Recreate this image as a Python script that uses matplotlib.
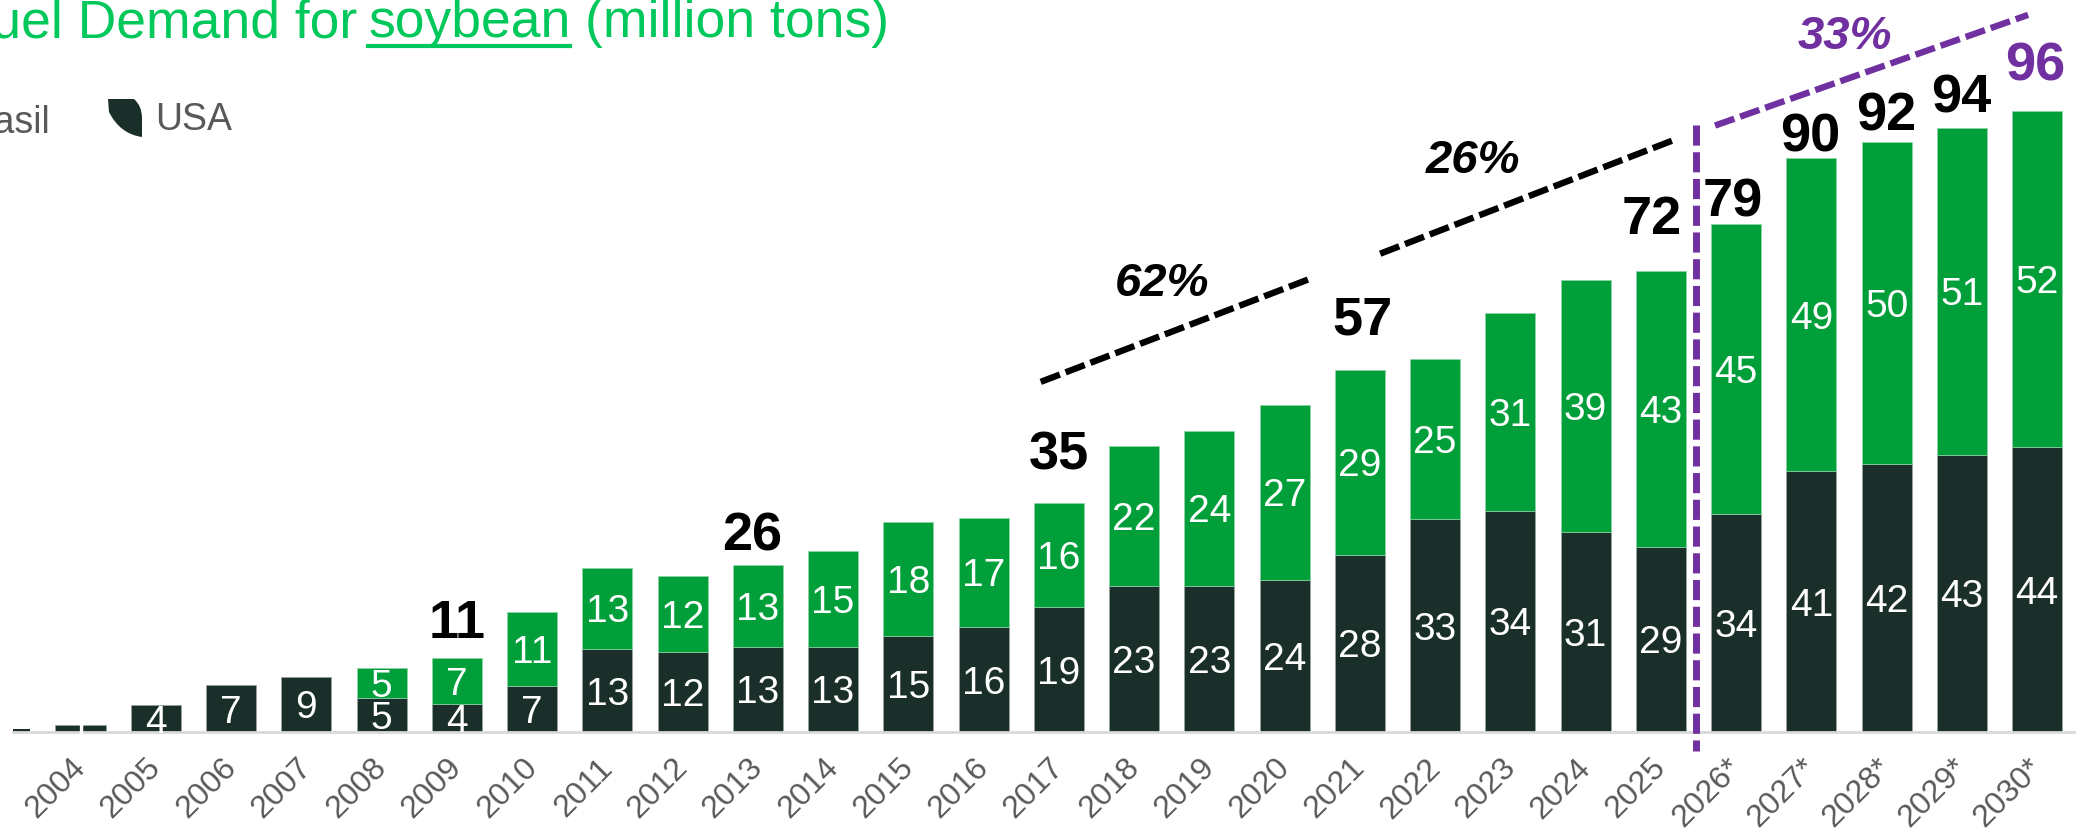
import matplotlib
matplotlib.use("Agg")
import matplotlib.pyplot as plt
from matplotlib.path import Path
from matplotlib.patches import PathPatch
from matplotlib.transforms import ScaledTranslation

plt.rcParams["font.family"] = ["Liberation Sans", "DejaVu Sans"]

W, H = 2087, 834

# ---------- data (million tons) ----------
years = ["", "2004", "2005", "2006", "2007", "2008", "2009", "2010", "2011", "2012",
         "2013", "2014", "2015", "2016", "2017", "2018", "2019", "2020", "2021",
         "2022", "2023", "2024", "2025", "2026*", "2027*", "2028*", "2029*", "2030*"]
usa = [0.5, 1.1, 4.1, 7.2, 8.5, 5.2, 4.3, 7.1, 12.8, 12.3, 13.2, 13.2, 14.8, 16.2,
       19.3, 22.6, 22.6, 23.5, 27.4, 32.9, 34.2, 30.9, 28.6, 33.7, 40.3, 41.4, 42.8, 44]
brazil = [0, 0, 0, 0, 0, 4.7, 7.2, 11.4, 12.6, 11.8, 12.6, 14.8, 17.6, 16.9,
          16.1, 21.6, 23.9, 27.1, 28.6, 24.7, 30.6, 38.9, 42.6, 44.8, 48.4, 49.8, 50.6, 52]
usa_labels = ["", "1", "4", "7", "9", "5", "4", "7", "13", "12", "13", "13", "15", "16",
              "19", "23", "23", "24", "28", "33", "34", "31", "29", "34", "41", "42", "43", "44"]
brazil_labels = ["", "", "", "", "", "5", "7", "11", "13", "12", "13", "15", "18", "17",
                 "16", "22", "24", "27", "29", "25", "31", "39", "43", "45", "49", "50", "51", "52"]

total_x = [6, 9.92, 14, 18.03, 21.88, 22.96, 23.99, 24.99, 25.99, 26.97]
total_y = [17.6, 31.1, 43.6, 64.5, 79.9, 82.7, 92.7, 96, 98.8, 103.6]
total_labels = ["11", "26", "35", "57", "72", "79", "90", "92", "94", "96"]

growth_x = [[13.76, 17.31], [18.27, 22.18]]
growth_y = [[54.1, 69.9], [73.9, 91.5]]
growth_label_x = [15.37, 19.5]
growth_label_y = [70.0, 89.0]
growth_labels = ["62%", "26%"]

forecast_x = [22.72, 26.88]
forecast_y = [93.7, 110.8]
split_x = [22.47, 22.47]
split_y = [93.8, -2.9]

DARK = "#1B2F2A"
GREEN = "#009F3A"
PURPLE = "#7030A0"
TITLE_GREEN = "#00C85A"
GREY = "#595959"


def fx(px):
    return px / W


def fy(px):
    return 1 - px / H


# ---------- axes ----------
fig = plt.figure(figsize=(W / 100, H / 100), dpi=100)
ax = fig.add_axes([fx(13), fy(732), (2074 - 13) / W, 732 / H])
ax.set_xlim(0.103, 27.49)
ax.set_ylim(0, 113.1)

pos = list(range(len(years)))
bars = ax.bar(pos, usa, width=0.665, color=DARK, edgecolor="#9aa5a2", linewidth=0.5)
bars[0].set_linewidth(0)
has_brazil = [i for i in pos if brazil[i] > 0]
ax.bar(has_brazil, [brazil[i] for i in has_brazil], width=0.665,
       bottom=[usa[i] for i in has_brazil], color=GREEN, edgecolor="#8fd3a8", linewidth=0.5)

# values inside the bars
for i in pos:
    if usa_labels[i]:
        ax.text(i, usa[i] / 2, usa_labels[i], color="white", fontsize=28,
                ha="center", va="center_baseline", zorder=5)
    if brazil_labels[i]:
        ax.text(i, usa[i] + brazil[i] / 2, brazil_labels[i], color="white", fontsize=28,
                ha="center", va="center_baseline", zorder=5)

# totals
for x, y, s in zip(total_x, total_y, total_labels):
    ax.text(x, y, s, fontsize=39, fontweight="bold", ha="center", va="center_baseline",
            color=PURPLE if s == "96" else "black", clip_on=False)

# growth arrows
for xs, ys in zip(growth_x, growth_y):
    ax.plot(xs, ys, color="black", lw=4.6, dashes=(3.2, 0.96), dash_capstyle="butt")
for x, y, s in zip(growth_label_x, growth_label_y, growth_labels):
    ax.text(x, y, s, fontsize=34, fontweight="bold", fontstyle="italic",
            ha="center", va="center_baseline", color="black")
ax.plot(forecast_x, forecast_y, color=PURPLE, lw=4.6, dashes=(3.2, 0.96), dash_capstyle="butt",
        clip_on=False)
ax.text(24.44, 108.2, "33%", fontsize=34, fontweight="bold", fontstyle="italic",
        ha="center", va="center_baseline", color=PURPLE)
ax.plot(split_x, split_y, color=PURPLE, lw=5, dashes=(2.9, 0.95), dash_capstyle="butt",
        clip_on=False, zorder=6)

# axis
for s in ["top", "left", "right"]:
    ax.spines[s].set_visible(False)
ax.spines["bottom"].set_color("#D9D9D9")
ax.spines["bottom"].set_linewidth(2)
ax.set_yticks([])
ax.set_xticks(pos[1:])
ax.set_xticklabels(years[1:], rotation=45, ha="right", va="top", rotation_mode="anchor",
                   fontsize=23, color=GREY)
ax.tick_params(axis="x", length=0, pad=15)
shift = ScaledTranslation(-10 / 100, 0, fig.dpi_scale_trans)
for lab in ax.get_xticklabels():
    lab.set_transform(lab.get_transform() + shift)

# ---------- title ----------
t1 = fig.text(fx(357), fy(37), "Biofuel Demand for", fontsize=38.5, color=TITLE_GREEN,
              ha="right", va="baseline")
t2 = fig.text(fx(368), fy(37), "soybean", fontsize=38.5, color=TITLE_GREEN,
              ha="left", va="baseline")
t3 = fig.text(fx(585), fy(37), "(million tons)", fontsize=38.5, color=TITLE_GREEN,
              ha="left", va="baseline")
fig.canvas.draw()
bb = t2.get_window_extent()
fig.add_artist(plt.Line2D([bb.x0 / W, bb.x1 / W], [fy(46), fy(46)], color=TITLE_GREEN,
                          lw=3, transform=fig.transFigure))

# ---------- legend ----------
fig.text(fx(51), fy(133), "Brasil", fontsize=27, color=GREY, ha="right", va="baseline")
fig.text(fx(155), fy(130), "USA", fontsize=27, color=GREY, ha="left", va="baseline")
leaf = Path(
    [(fx(108), fy(99)), (fx(134), fy(99)), (fx(142), fy(106)), (fx(142), fy(118)),
     (fx(142), fy(137)), (fx(120), fy(134)), (fx(109), fy(112)), (fx(108), fy(99))],
    [Path.MOVETO, Path.LINETO, Path.CURVE3, Path.CURVE3, Path.LINETO, Path.CURVE3, Path.CURVE3, Path.CLOSEPOLY],
)
fig.add_artist(PathPatch(leaf, facecolor=DARK, edgecolor="none", transform=fig.transFigure))

fig.savefig("out.png", dpi=100)
